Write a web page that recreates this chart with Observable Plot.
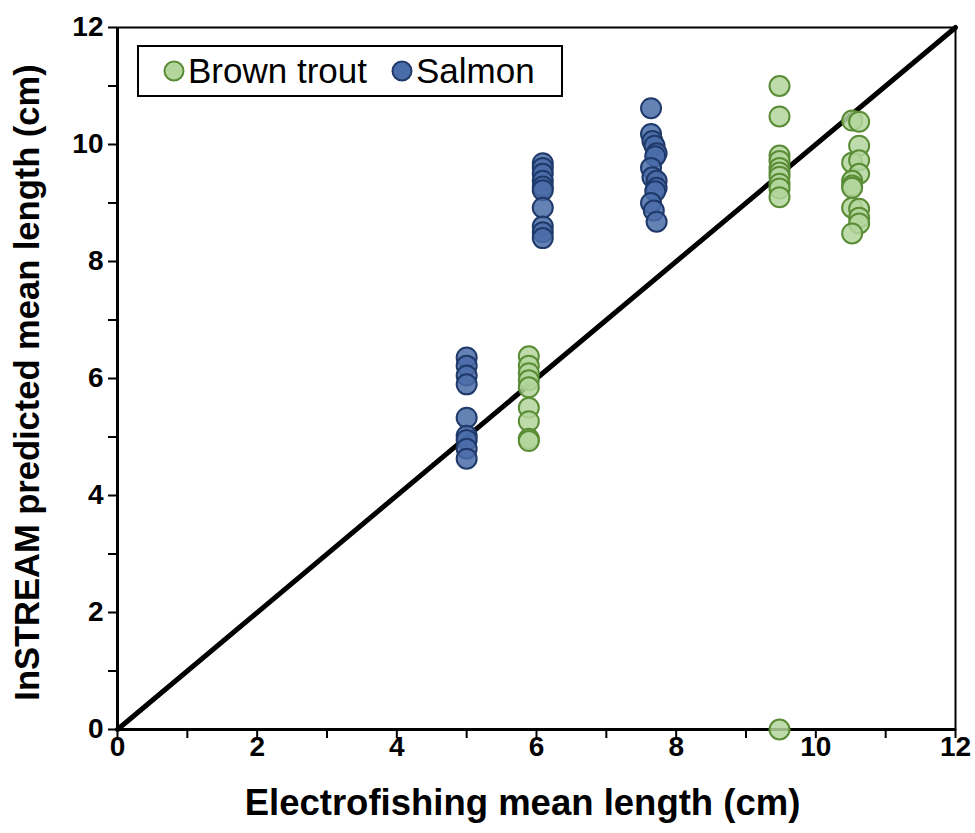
<!DOCTYPE html>
<html>
<head>
<meta charset="utf-8">
<script src="https://cdn.jsdelivr.net/npm/d3@7"></script>
<script src="https://cdn.jsdelivr.net/npm/@observablehq/plot@0.6"></script>
<style>
  body { margin: 0; background: #fff; font-family: "Liberation Sans", Arial, sans-serif; }
  #wrap { position: relative; width: 975px; height: 833px; }
  #legend {
    position: absolute; left: 137px; top: 45px; width: 422px; height: 48px;
    border: 2px solid #000; background: #fff;
    display: flex; align-items: center; font-size: 35px; color: #000;
  }
  #legend .item { display: flex; align-items: center; margin-left: 24px; }
  #legend .item + .item { margin-left: 24px; }
  #legend svg { margin-right: 3px; }
</style>
</head>
<body>
<div id="wrap"></div>
<script>
// Axis ticks
const majorTicks = [0, 2, 4, 6, 8, 10, 12];
const minorTicks = [1, 3, 5, 7, 9, 11];
const lineEnds = [0, 12];

// Brown trout: electrofishing mean length vs InSTREAM predicted mean length
const troutX = [
  5.89, 5.89, 5.89, 5.89, 5.89, 5.89, 5.89, 5.89, 5.89,
  9.48, 9.48, 9.48, 9.48, 9.48, 9.48, 9.48, 9.48, 9.48, 9.48, 9.48,
  10.52, 10.62, 10.62, 10.52, 10.62, 10.62, 10.52, 10.52, 10.52, 10.52, 10.62, 10.62, 10.62, 10.52
];
const troutY = [
  6.38, 6.22, 6.09, 5.97, 5.85, 5.5, 5.27, 4.97, 4.93,
  11.0, 10.48, 9.81, 9.72, 9.6, 9.52, 9.45, 9.33, 9.25, 9.1, 0,
  10.41, 10.39, 9.98, 9.69, 9.73, 9.5, 9.38, 9.3, 9.26, 8.92, 8.9, 8.75, 8.65, 8.48
];

// Salmon
const salmonX = [
  5.0, 5.0, 5.0, 5.0, 5.0, 5.0, 5.0, 5.0, 5.0,
  6.09, 6.09, 6.09, 6.09, 6.09, 6.09, 6.09, 6.09, 6.09, 6.09,
  7.64, 7.64, 7.66, 7.69, 7.72, 7.7, 7.64, 7.66, 7.72, 7.72, 7.7, 7.64, 7.68, 7.72
];
const salmonY = [
  6.36, 6.22, 6.05, 5.9, 5.33, 5.02, 4.95, 4.8, 4.63,
  9.68, 9.6, 9.5, 9.38, 9.28, 9.22, 8.92, 8.6, 8.5, 8.4,
  10.62, 10.18, 10.06, 9.98, 9.85, 9.8, 9.6, 9.44, 9.38, 9.26, 9.2, 9.0, 8.87, 8.68
];

const trout = troutX.map((x, i) => ({x, y: troutY[i]}));
const salmon = salmonX.map((x, i) => ({x, y: salmonY[i]}));

const troutFill = "#b3d69c", troutStroke = "#5a8c35";
const salmonFill = "#4a6ca8", salmonStroke = "#1f3a6a";

const axisText = {fontSize: 28, fontWeight: "bold", fill: "#000", tickFormat: d => String(d)};
const titleText = {fontWeight: "bold", fill: "#000", textAnchor: "middle", lineAnchor: "middle"};

const chart = Plot.plot({
  width: 975,
  height: 833,
  marginLeft: 117,
  marginRight: 20,
  marginTop: 27,
  marginBottom: 104,
  style: {fontFamily: "'Liberation Sans', Arial, sans-serif", color: "#000", background: "#fff"},
  x: {domain: [0, 12]},
  y: {domain: [0, 12]},
  marks: [
    Plot.frame({stroke: "#000", strokeWidth: 2}),
    Plot.axisX(majorTicks, {tickSize: 9, tickPadding: -2, strokeWidth: 2, label: null, ...axisText}),
    Plot.axisX(minorTicks, {tickSize: 9, strokeWidth: 2, text: null, label: null}),
    Plot.axisY(majorTicks, {tickSize: 9, tickPadding: 5, strokeWidth: 2, label: null, ...axisText}),
    Plot.axisY(minorTicks, {tickSize: 9, strokeWidth: 2, text: null, label: null}),
    Plot.ruleX([0], {strokeWidth: 3}),
    Plot.ruleY([0], {strokeWidth: 3}),
    Plot.line(lineEnds, {x: d => d, y: d => d, stroke: "#000", strokeWidth: 5}),
    Plot.dot(trout, {x: "x", y: "y", r: 10, fill: troutFill, fillOpacity: 0.85, stroke: troutStroke, strokeWidth: 2}),
    Plot.dot(salmon, {x: "x", y: "y", r: 10, fill: salmonFill, fillOpacity: 0.85, stroke: salmonStroke, strokeWidth: 2}),
    Plot.text(["Electrofishing mean length (cm)"], {frameAnchor: "bottom", dx: -14, dy: 74, fontSize: 36.5, ...titleText}),
    Plot.text(["InSTREAM predicted mean length (cm)"], {frameAnchor: "left", dx: -90, dy: 4, rotate: -90, fontSize: 34.5, ...titleText})
  ]
});

const wrap = document.getElementById("wrap");
wrap.appendChild(chart);

// Legend box inside the plot area
const series = [
  {name: "Brown trout", fill: troutFill, stroke: troutStroke},
  {name: "Salmon", fill: salmonFill, stroke: salmonStroke}
];
const legend = document.createElement("div");
legend.id = "legend";
for (const s of series) {
  const item = document.createElement("span");
  item.className = "item";
  item.innerHTML = `<svg width="22" height="22"><circle cx="11" cy="11" r="9.5" fill="${s.fill}" stroke="${s.stroke}" stroke-width="2"/></svg><span>${s.name}</span>`;
  legend.appendChild(item);
}
wrap.appendChild(legend);
</script>
</body>
</html>
